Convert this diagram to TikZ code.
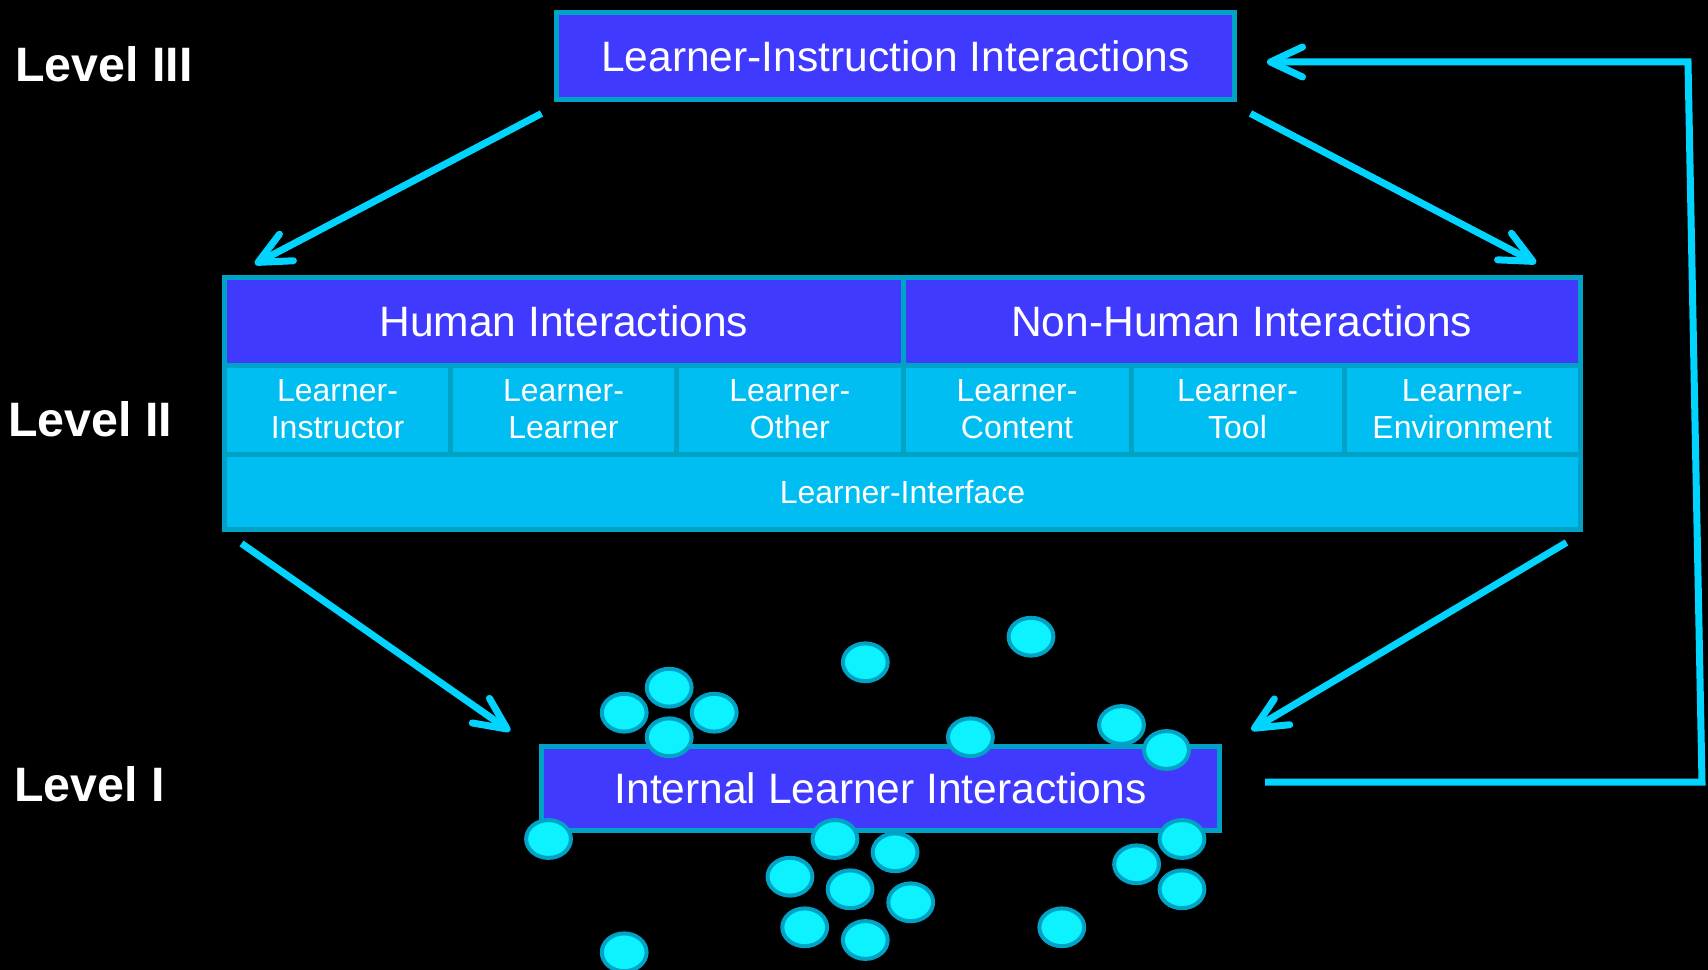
\documentclass[tikz,border=0pt]{standalone}
\usepackage{fontspec}
\setmainfont{Liberation Sans}
\usepackage{tikz}
\usetikzlibrary{arrows.meta, positioning}
\definecolor{boxblue}{RGB}{64, 58, 255}
\definecolor{edge}{RGB}{0, 162, 198}
\definecolor{cellblue}{RGB}{0, 190, 242}
\definecolor{flowcyan}{RGB}{0, 212, 255}
\definecolor{dotcyan}{RGB}{12, 242, 255}

\begin{document}
\begin{tikzpicture}[x=1cm, y=-1cm,
  level/.style={text=white, font=\fontsize{13.75}{16}\selectfont\bfseries, inner sep=0pt, anchor=west},
  banner/.style={draw=edge, fill=boxblue, line width=0.5mm, text=white, outer sep=0pt, font=\fontsize{12.1}{14}\selectfont, minimum width=6.78cm, minimum height=0.87cm},
  head/.style={banner, minimum width=6.785cm, minimum height=0.875cm},
  cell/.style={draw=edge, fill=cellblue, line width=0.5mm, text=white, outer sep=0pt, inner sep=0pt, font=\fontsize{9.1}{10.6}\selectfont, align=center, minimum height=0.89cm},
  flow/.style={draw=flowcyan, line width=0.7mm, -{Straight Barb[length=3.2mm, width=3mm, round]}},
  dot/.style={draw=edge, fill=dotcyan, line width=0.4mm}]

  \useasboundingbox (0,0) rectangle (17.08,9.70);
  \fill[black] (0,0) rectangle (17.08,9.70);

  % level labels
  \node[level] (l3) at (0.145,0.645) {Level III};
  \node[level] (l2) at (0.075,4.19) {Level II};
  \node[level] (l1) at (0.135,7.845) {Level I};

  % level III
  \node[banner] (lit) at (8.955,0.56) {Learner-Instruction Interactions};

  % level II
  \node[head, anchor=north west] (human) at (2.245,2.775) {Human Interactions};
  \node[head, right=0pt of human, minimum width=6.775cm] (nonhuman) {Non-Human Interactions};
  \node[cell, minimum width=2.26cm, anchor=north west] (instr) at (2.245,3.65) {Learner-\\Instructor};
  \node[cell, minimum width=2.26cm, right=0pt of instr] (peer) {Learner-\\Learner};
  \node[cell, minimum width=2.265cm, right=0pt of peer] (other) {Learner-\\Other};
  \node[cell, minimum width=2.28cm, right=0pt of other] (content) {Learner-\\Content};
  \node[cell, minimum width=2.13cm, right=0pt of content] (tool) {Learner-\\Tool};
  \node[cell, minimum width=2.365cm, right=0pt of tool] (env) {Learner-\\Environment};
  \node[cell, minimum width=13.56cm, minimum height=0.755cm, anchor=north west] (iface) at (2.245,4.54) {Learner-Interface};

  % level I
  \node[banner, minimum height=0.84cm] (ili) at (8.805,7.885) {Internal Learner Interactions};

  % arrows between levels
  \draw[flow] ([shift={(-0.15,0.14)}]lit.south west) -- ([shift={(0.305,-0.135)}]human.north west);
  \draw[flow] ([shift={(0.16,0.14)}]lit.south east) -- ([shift={(-0.445,-0.145)}]nonhuman.north east);
  \draw[flow] ([shift={(0.17,0.14)}]iface.south west) -- ([shift={(-0.315,-0.155)}]ili.north west);
  \draw[flow] ([shift={(-0.14,0.13)}]iface.south east) -- ([shift={(0.32,-0.165)}]ili.north east);

  % feedback loop back to the top
  \coordinate (fbdown) at (17.02,7.82);
  \coordinate (fbup) at (16.88,0.62);
  \draw[flow] ([shift={(0.455,-0.065)}]ili.east) -- (fbdown) -- (fbup) -- ([shift={(0.325,0.06)}]lit.east);

  % scattered interactions
  \foreach \x/\y in {6.692/6.877, 6.242/7.127, 7.142/7.127, 6.692/7.373,
      8.653/6.623, 10.310/6.367, 9.704/7.373, 11.215/7.25, 11.665/7.50,
      5.485/8.39, 8.951/8.523, 8.35/8.39, 7.90/8.767, 8.501/8.893,
      9.107/9.023, 8.047/9.273, 8.653/9.40, 6.242/9.523, 10.618/9.273,
      11.82/8.39, 11.366/8.643, 11.82/8.893}
    \draw[dot] (\x,\y) ellipse [x radius=0.224, y radius=0.189];
\end{tikzpicture}
\end{document}
